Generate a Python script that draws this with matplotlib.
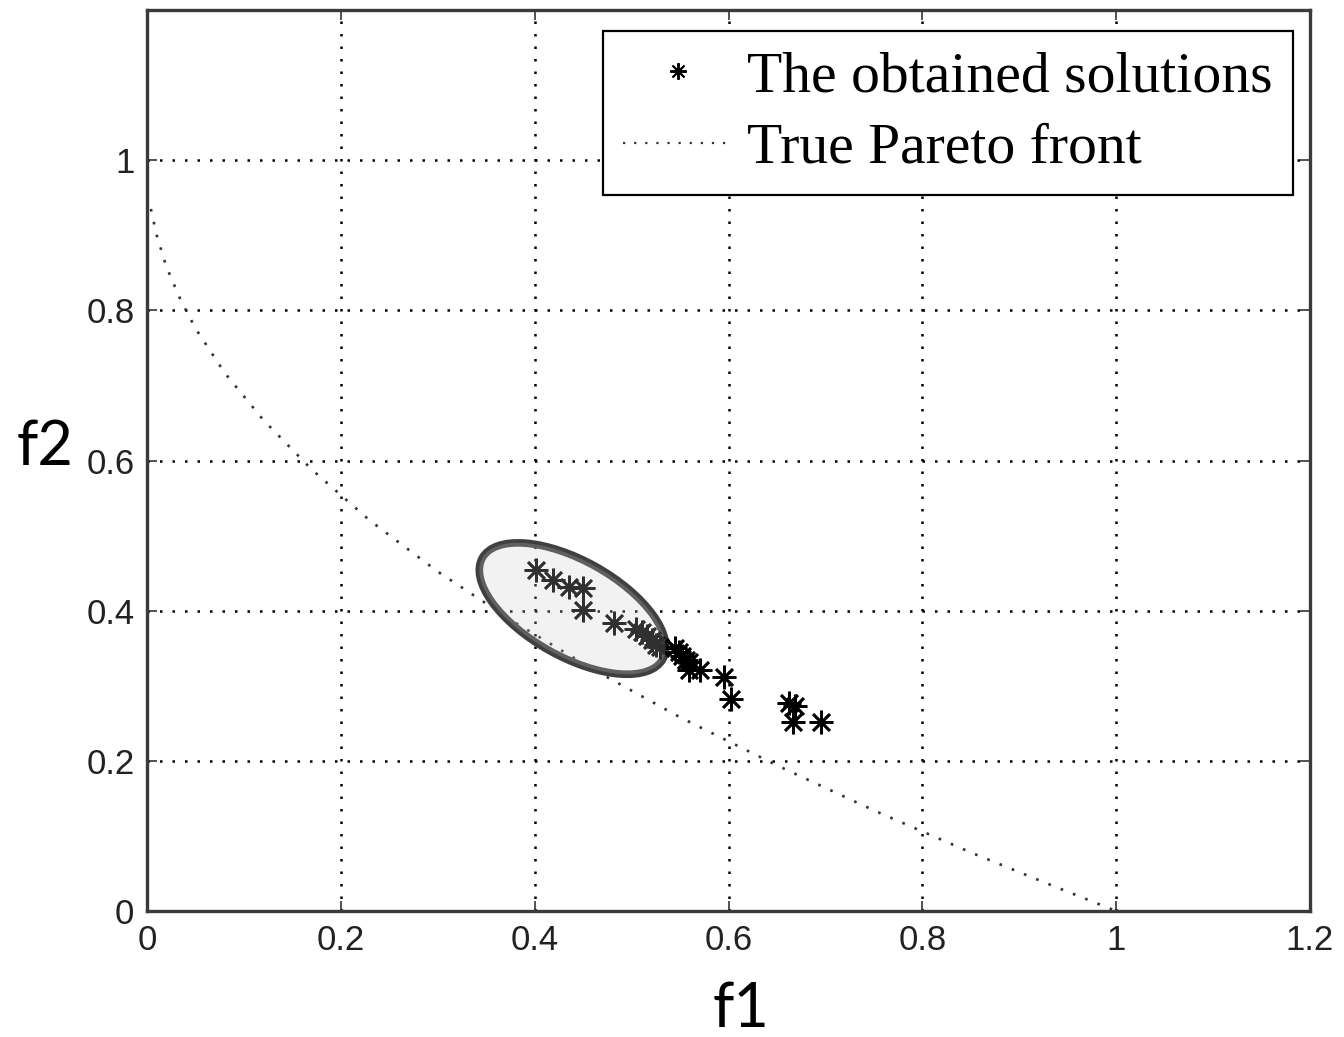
import matplotlib
matplotlib.use('Agg')
import matplotlib.pyplot as plt
from matplotlib.patches import Ellipse
from matplotlib.lines import Line2D
import matplotlib.transforms as mtransforms

# ---------------- data ----------------
f1_solutions = [0.401, 0.419, 0.435, 0.450, 0.450, 0.482, 0.505, 0.511, 0.516,
                0.521, 0.525, 0.529, 0.545, 0.549, 0.552, 0.556, 0.559, 0.559,
                0.571, 0.595, 0.603, 0.662, 0.669, 0.667, 0.695]
f2_solutions = [0.454, 0.441, 0.432, 0.430, 0.401, 0.383, 0.376, 0.372, 0.366,
                0.361, 0.354, 0.352, 0.350, 0.345, 0.339, 0.334, 0.332, 0.321,
                0.321, 0.312, 0.283, 0.277, 0.273, 0.252, 0.252]

front_f1 = [0.004, 0.01, 0.02, 0.035, 0.05, 0.08, 0.12, 0.17, 0.23, 0.30,
            0.38, 0.46, 0.55, 0.65, 0.75, 0.85, 0.93, 1.0]
front_f2 = [0.935, 0.900, 0.858, 0.813, 0.776, 0.717, 0.654, 0.588, 0.520,
            0.452, 0.384, 0.322, 0.258, 0.194, 0.134, 0.078, 0.036, 0.0]

x_ticks = [0, 0.2, 0.4, 0.6, 0.8, 1.0, 1.2]
x_tick_labels = ['0', '0.2', '0.4', '0.6', '0.8', '1', '1.2']
y_ticks = [0, 0.2, 0.4, 0.6, 0.8, 1.0]
y_tick_labels = ['0', '0.2', '0.4', '0.6', '0.8', '1']

legend_labels = ['The obtained solutions', 'True Pareto front']
x_label = 'f1'
y_label = 'f2'

# highlighted region (annotation)
ELL_CENTER = (0.4391, 0.4028)

# ---------------- figure ----------------
fig = plt.figure(figsize=(13.44, 10.37), dpi=100)
ax = fig.add_axes([147 / 1344, 1 - 911 / 1037, (1310 - 147) / 1344, (911 - 10) / 1037])

dots = (0, (1, 4))
front_line, = ax.plot(front_f1, front_f2, color='#333333', lw=1.9,
                      linestyle=dots, zorder=2)
sol_line, = ax.plot(f1_solutions, f2_solutions, linestyle='none',
                    marker=(8, 2, 0), markersize=17, mew=1.9, color='black',
                    zorder=3)

# ellipse drawn in pixel units around a data point
offset = mtransforms.ScaledTranslation(ELL_CENTER[0], ELL_CENTER[1], ax.transData)
trans = fig.dpi_scale_trans + offset
ell_w, ell_h, ell_ang = 2.07, 0.96, -29.3
ell_edge = Ellipse((0, 0), width=ell_w, height=ell_h, angle=ell_ang,
                   facecolor='none', edgecolor='#404040', lw=5.5,
                   transform=trans, zorder=2.5)
ell_fill = Ellipse((0, 0), width=ell_w, height=ell_h, angle=ell_ang,
                   facecolor=(0.79, 0.79, 0.79, 0.24), edgecolor='none',
                   transform=trans, zorder=4)
ax.add_patch(ell_edge)
ax.add_patch(ell_fill)

ax.set_xlim(0, 1.2)
ax.set_ylim(0, 1.2)
ax.set_xticks(x_ticks)
ax.set_xticklabels(x_tick_labels)
ax.set_yticks(y_ticks)
ax.set_yticklabels(y_tick_labels)

ax.tick_params(direction='in', length=7, width=1.2, top=True, right=True,
               labelsize=25, pad=9, labelcolor='#222222', color='#333333')
for lab in ax.get_xticklabels() + ax.get_yticklabels():
    lab.set_family('Liberation Sans')

for sp in ax.spines.values():
    sp.set_linewidth(2.4)
    sp.set_color('#3a3a3a')

ax.grid(True, color='black', linestyle=dots, linewidth=1.8)
ax.set_axisbelow(True)

leg_sol = Line2D([], [], linestyle='none', marker=(8, 2, 0), markersize=12,
                 mew=1.4, color='black')
leg_front = Line2D([], [], color='#333333', lw=1.6, linestyle=dots)
leg = ax.legend([leg_sol, leg_front], legend_labels, loc='upper right',
                bbox_to_anchor=((1293 - 147) / 1163, (911 - 31) / 901),
                borderaxespad=0, prop={'family': 'Liberation Serif', 'size': 41.5},
                handlelength=1.9, handletextpad=0.25, borderpad=0.35,
                labelspacing=0.33, fancybox=False, framealpha=1,
                edgecolor='black')
leg.get_frame().set_linewidth(1.6)
leg.set_zorder(5)

fig.text(741 / 1344, 1 - 1027 / 1037, x_label, ha='center', va='baseline',
         fontsize=44, family='Lato', color='black')
fig.text(17 / 1344, 1 - 465 / 1037, y_label, ha='left', va='baseline',
         fontsize=44, family='Lato', color='black')

fig.savefig('out.png', dpi=100)
